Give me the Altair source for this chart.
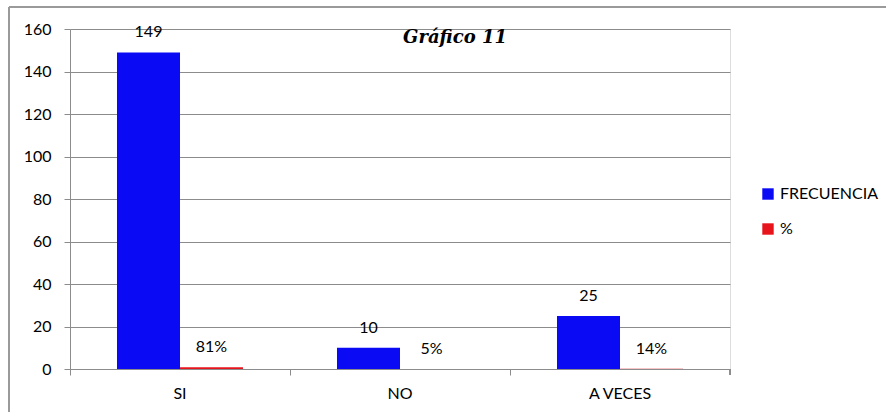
import altair as alt
import pandas as pd

categories = ["SI", "NO", "A VECES"]
frecuencia = [149, 10, 25]
porcentaje = [0.81, 0.05, 0.14]
pct_labels = ["81%", "5%", "14%"]
series = ["FRECUENCIA", "%"]
colors = ["#0A0AF5", "#E8141B"]
title_text = "Gráfico  11"

rows = []
for c, f, p, pl in zip(categories, frecuencia, porcentaje, pct_labels):
    rows.append({"cat": c, "serie": series[0], "valor": f, "label": str(f)})
    rows.append({"cat": c, "serie": series[1], "valor": p, "label": pl})
df = pd.DataFrame(rows)

FONT = "Lato"
FS = 16
GRAY = "#8C8C8C"

x_enc = alt.X("cat:N", sort=categories, title=None,
              scale=alt.Scale(paddingInner=0, paddingOuter=0),
              axis=alt.Axis(labelAngle=0, bandPosition=0, domainColor=GRAY, tickColor=GRAY,
                            tickSize=6, labelPadding=10, labelFontSize=FS, labelFont=FONT,
                            labelColor="#000000", grid=False))
xoff = alt.XOffset("serie:N", sort=series,
                   scale=alt.Scale(paddingInner=0, paddingOuter=0.746))
y_enc = alt.Y("valor:Q", title=None,
              scale=alt.Scale(domain=[0, 160], nice=False),
              axis=alt.Axis(values=list(range(0, 161, 20)), domainColor=GRAY, tickColor=GRAY,
                            tickSize=6, labelPadding=13, labelFontSize=FS, labelFont=FONT,
                            labelColor="#000000", gridColor=GRAY, gridOpacity=1))
color_enc = alt.Color("serie:N", sort=series,
                      scale=alt.Scale(domain=series, range=colors),
                      legend=alt.Legend(title=None, orient="none", legendX=690, legendY=157,
                                        symbolType="square", symbolSize=130,
                                        labelFontSize=FS, labelFont=FONT, rowPadding=19,
                                        symbolStrokeWidth=0, labelColor="#000000"))

base = alt.Chart(df)
bars = base.mark_bar().encode(
    x=x_enc, xOffset=xoff, y=y_enc, color=color_enc)
labels = base.mark_text(baseline="bottom", dy=-12, fontSize=FS, font=FONT, color="#000000").encode(
    x=alt.X("cat:N", sort=categories), xOffset=xoff, y="valor:Q", text="label:N")

title_mark = alt.Chart(pd.DataFrame({"t": [title_text]})).mark_text(
    font="DejaVu Serif", fontSize=18, fontStyle="italic", fontWeight="bold",
    color="#000000", baseline="alphabetic", align="center").encode(
    x=alt.value(385), y=alt.value(14), text="t:N")

# decorations: outer frame (top & left) and closing x tick
frame_top = alt.Chart(df).mark_rule(color="#9A9A9A", strokeWidth=1.5).encode(
    x=alt.value(-61), x2=alt.value(816), y=alt.value(-22))
frame_left = alt.Chart(df).mark_rule(color="#9A9A9A", strokeWidth=1.5).encode(
    x=alt.value(-61), y=alt.value(-22), y2=alt.value(383))
end_tick = alt.Chart(df).mark_rule(color=GRAY).encode(
    x=alt.value(660), y=alt.value(340), y2=alt.value(346))

chart = alt.layer(bars, labels, title_mark, frame_top, frame_left, end_tick).properties(
    width=660, height=340,
    autosize=alt.AutoSizeParams(type="none"),
    padding={"left": 70, "top": 29, "right": 156, "bottom": 43},
).configure_view(stroke=None).configure(background="#FFFFFF")

chart.save("out.html", embed_options={"renderer": "svg", "actions": False})
